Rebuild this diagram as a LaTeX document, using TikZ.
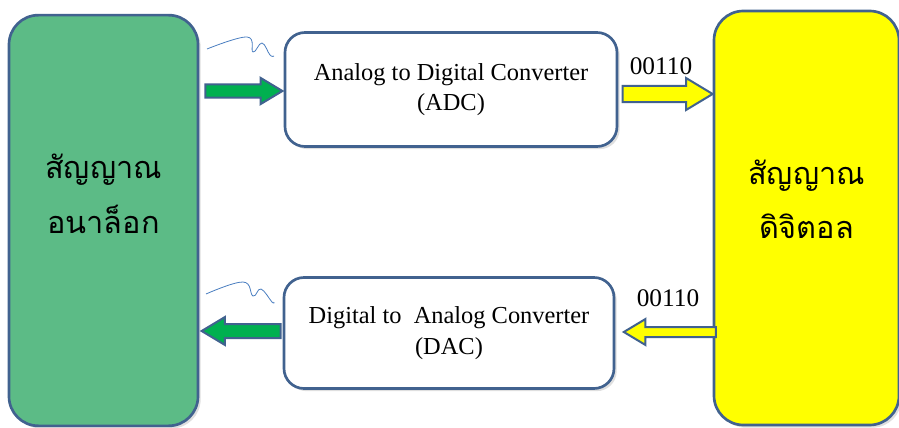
\documentclass[tikz,border=0pt]{standalone}
\usepackage{fontspec}
\setmainfont{Liberation Serif}
\newfontfamily\thaifont[Script=Thai]{Loma}
\usetikzlibrary{shapes.arrows,shadows}
\definecolor{edgeblue}{HTML}{41628F}
\definecolor{boxgreen}{HTML}{5CBB86}
\definecolor{arrgreen}{HTML}{00B050}
\definecolor{boxyellow}{HTML}{FFFF00}
\definecolor{wave}{HTML}{4A7EC0}
\begin{document}
\begin{tikzpicture}[x=0.75pt,y=-0.75pt,
		sigbox/.style={draw=edgeblue, line width=2pt, rounded corners=22pt,
			drop shadow={opacity=0.25, shadow xshift=2pt, shadow yshift=-2pt}},
		thai/.style={align=center, font=\thaifont\fontsize{23}{41}\selectfont},
		convbox/.style={draw=edgeblue, line width=2pt, rounded corners=15pt, fill=white,
			align=center, font=\fontsize{18.3}{23}\selectfont,
			drop shadow={opacity=0.25, shadow xshift=2pt, shadow yshift=-2pt}},
		blockarr/.style={single arrow, draw=edgeblue, line width=1.5pt, inner sep=0pt,
			text depth=0pt, single arrow tip angle=62},
		wavy/.style={wave, line width=0.6pt},
		bits/.style={font=\fontsize{19}{21}\selectfont}]
	\useasboundingbox (0,0) rectangle (899,428);
	% signal blocks
	\node[sigbox, fill=boxgreen, minimum width=141.75pt, minimum height=308pt]
		(analog) at (103.5,220.5) {};
	\node[thai] (analogtxt) at ([yshift=20pt]analog.center) {สัญญาณ\\อนาล็อก};
	\node[sigbox, fill=boxyellow, minimum width=138.75pt, minimum height=310.5pt]
		(digital) at (806.5,218) {};
	\node[thai] (digitaltxt) at ([yshift=14pt]digital.center) {สัญญาณ\\ดิจิตอล};
	% converters
	\node[convbox, minimum width=249pt, minimum height=85.5pt]
		(adc) at (451,89.5) {Analog to Digital Converter\\(ADC)};
	\node[convbox, minimum width=247.5pt, minimum height=83.25pt]
		(dac) at (449,333) {Digital to~ Analog Converter\\(DAC)};
	% block arrows
	\node[blockarr, fill=arrgreen, minimum height=57.75pt, text height=8.25pt,
		single arrow head extend=4.9pt] (ain) at (238.5,91) {};
	\node[blockarr, fill=boxyellow, minimum height=67.5pt, text height=10.5pt,
		single arrow head extend=6pt] (dout) at (661,94) {};
	\node[blockarr, fill=boxyellow, minimum height=69pt, text height=6pt,
		single arrow head extend=6pt, shape border rotate=180] (din) at (674,332) {};
	\node[blockarr, fill=arrgreen, minimum height=59.25pt, text height=9pt,
		single arrow head extend=5.25pt, shape border rotate=180] (aout) at (247,331) {};
	% bit labels
	\node[bits] (bitsup) at (661,66) {00110};
	\node[bits] (bitsdn) at (668,298) {00110};
	% analog squiggles
	\draw[wavy] plot[smooth, tension=0.7] coordinates
		{(207,49) (247,37) (253,52) (262,43) (270,55) (274,56)};
	\draw[wavy] plot[smooth, tension=0.7] coordinates
		{(206,294) (243,282) (253,296) (261,289) (272,302) (274,302)};
\end{tikzpicture}
\end{document}
